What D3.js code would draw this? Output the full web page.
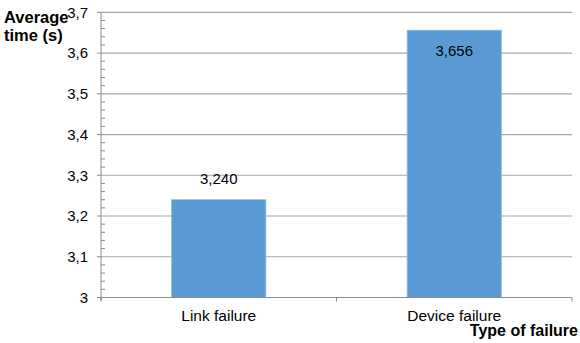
<!DOCTYPE html>
<html>
<head>
<meta charset="utf-8">
<script src="https://cdn.jsdelivr.net/npm/d3@7"></script>
<style>
  html, body { margin: 0; padding: 0; background: #fff; }
  svg { display: block; font-family: "Liberation Sans", Arial, sans-serif; }
</style>
</head>
<body>
<svg id="chart" width="580" height="343"></svg>
<script>
// Average recovery time per failure type
const categories = ["Link failure", "Device failure"];
const values = [3.240, 3.656];
const valueLabels = ["3,240", "3,656"];
const yTicks = [3, 3.1, 3.2, 3.3, 3.4, 3.5, 3.6, 3.7];
const yTickLabels = ["3", "3,1", "3,2", "3,3", "3,4", "3,5", "3,6", "3,7"];

const svg = d3.select("#chart");
const plotLeft = 101, plotRight = 572, plotTop = 12.3, plotBottom = 297.5;

const x = d3.scaleBand().domain(categories).range([plotLeft, plotRight])
  .paddingInner(0.6).paddingOuter(0.3);
const y = d3.scaleLinear().domain([3, 3.7]).range([plotBottom, plotTop]);

const gridColor = "#a6a6a6";
const axisColor = "#8c8c8c";

// horizontal gridlines
svg.append("g").selectAll("line").data(yTicks.slice(1)).join("line")
  .attr("x1", plotLeft).attr("x2", plotRight)
  .attr("y1", d => y(d)).attr("y2", d => y(d))
  .attr("stroke", gridColor).attr("stroke-width", 1.2);

// bars
svg.append("g").selectAll("rect").data(values).join("rect")
  .attr("x", (d, i) => x(categories[i]))
  .attr("width", x.bandwidth())
  .attr("y", d => y(d))
  .attr("height", d => y(3) - y(d))
  .attr("fill", "#5b9bd5")
  .attr("stroke", "#8fb9e3").attr("stroke-width", 0.8);

// y axis with minor ticks
const yAxis = svg.append("g");
yAxis.append("line").attr("x1", plotLeft).attr("x2", plotLeft)
  .attr("y1", plotTop).attr("y2", plotBottom + 3).attr("stroke", axisColor);
yAxis.selectAll("line.major").data(yTicks).join("line").attr("class", "major")
  .attr("x1", plotLeft - 4).attr("x2", plotLeft)
  .attr("y1", d => y(d)).attr("y2", d => y(d)).attr("stroke", axisColor);
const minor = d3.range(0, 35).filter(i => i % 5 !== 0).map(i => 3 + i * 0.02);
yAxis.selectAll("line.minor").data(minor).join("line").attr("class", "minor")
  .attr("x1", plotLeft).attr("x2", plotLeft + 4)
  .attr("y1", d => y(d)).attr("y2", d => y(d)).attr("stroke", axisColor);
yAxis.selectAll("text").data(yTicks).join("text")
  .attr("x", 88).attr("y", d => y(d)).attr("dy", "0.36em")
  .attr("text-anchor", "end").attr("font-size", 15).attr("fill", "#000")
  .text((d, i) => yTickLabels[i]);

// x axis
const xAxis = svg.append("g");
xAxis.append("line").attr("x1", plotLeft - 4).attr("x2", plotRight)
  .attr("y1", plotBottom).attr("y2", plotBottom).attr("stroke", axisColor).attr("stroke-width", 1.2);
const bounds = [plotLeft, plotLeft + x.step(), plotRight];
xAxis.selectAll("line.tick").data(bounds).join("line").attr("class", "tick")
  .attr("x1", d => d).attr("x2", d => d)
  .attr("y1", plotBottom).attr("y2", plotBottom + 4).attr("stroke", axisColor);
xAxis.selectAll("text").data(categories).join("text")
  .attr("x", d => x(d) + x.bandwidth() / 2).attr("y", 321)
  .attr("text-anchor", "middle").attr("font-size", 15.5).attr("fill", "#000")
  .text(d => d);

// value labels: above the bar when there is room, inside the bar otherwise
svg.append("g").selectAll("text").data(values).join("text")
  .attr("x", (d, i) => x(categories[i]) + x.bandwidth() / 2)
  .attr("y", d => (y(d) - 28 < plotTop ? y(d) + 26 : y(d) - 16))
  .attr("text-anchor", "middle").attr("font-size", 15).attr("fill", "#000")
  .text((d, i) => valueLabels[i]);

// axis titles
const yTitle = svg.append("text").attr("font-size", 16.5).attr("font-weight", "bold")
  .attr("fill", "#000");
yTitle.append("tspan").attr("x", 4).attr("y", 23).text("Average");
yTitle.append("tspan").attr("x", 4).attr("y", 41).text("time (s)");

svg.append("text").attr("x", 578).attr("y", 336).attr("text-anchor", "end")
  .attr("font-size", 16).attr("font-weight", "bold").attr("fill", "#000")
  .text("Type of failure");
</script>
</body>
</html>
